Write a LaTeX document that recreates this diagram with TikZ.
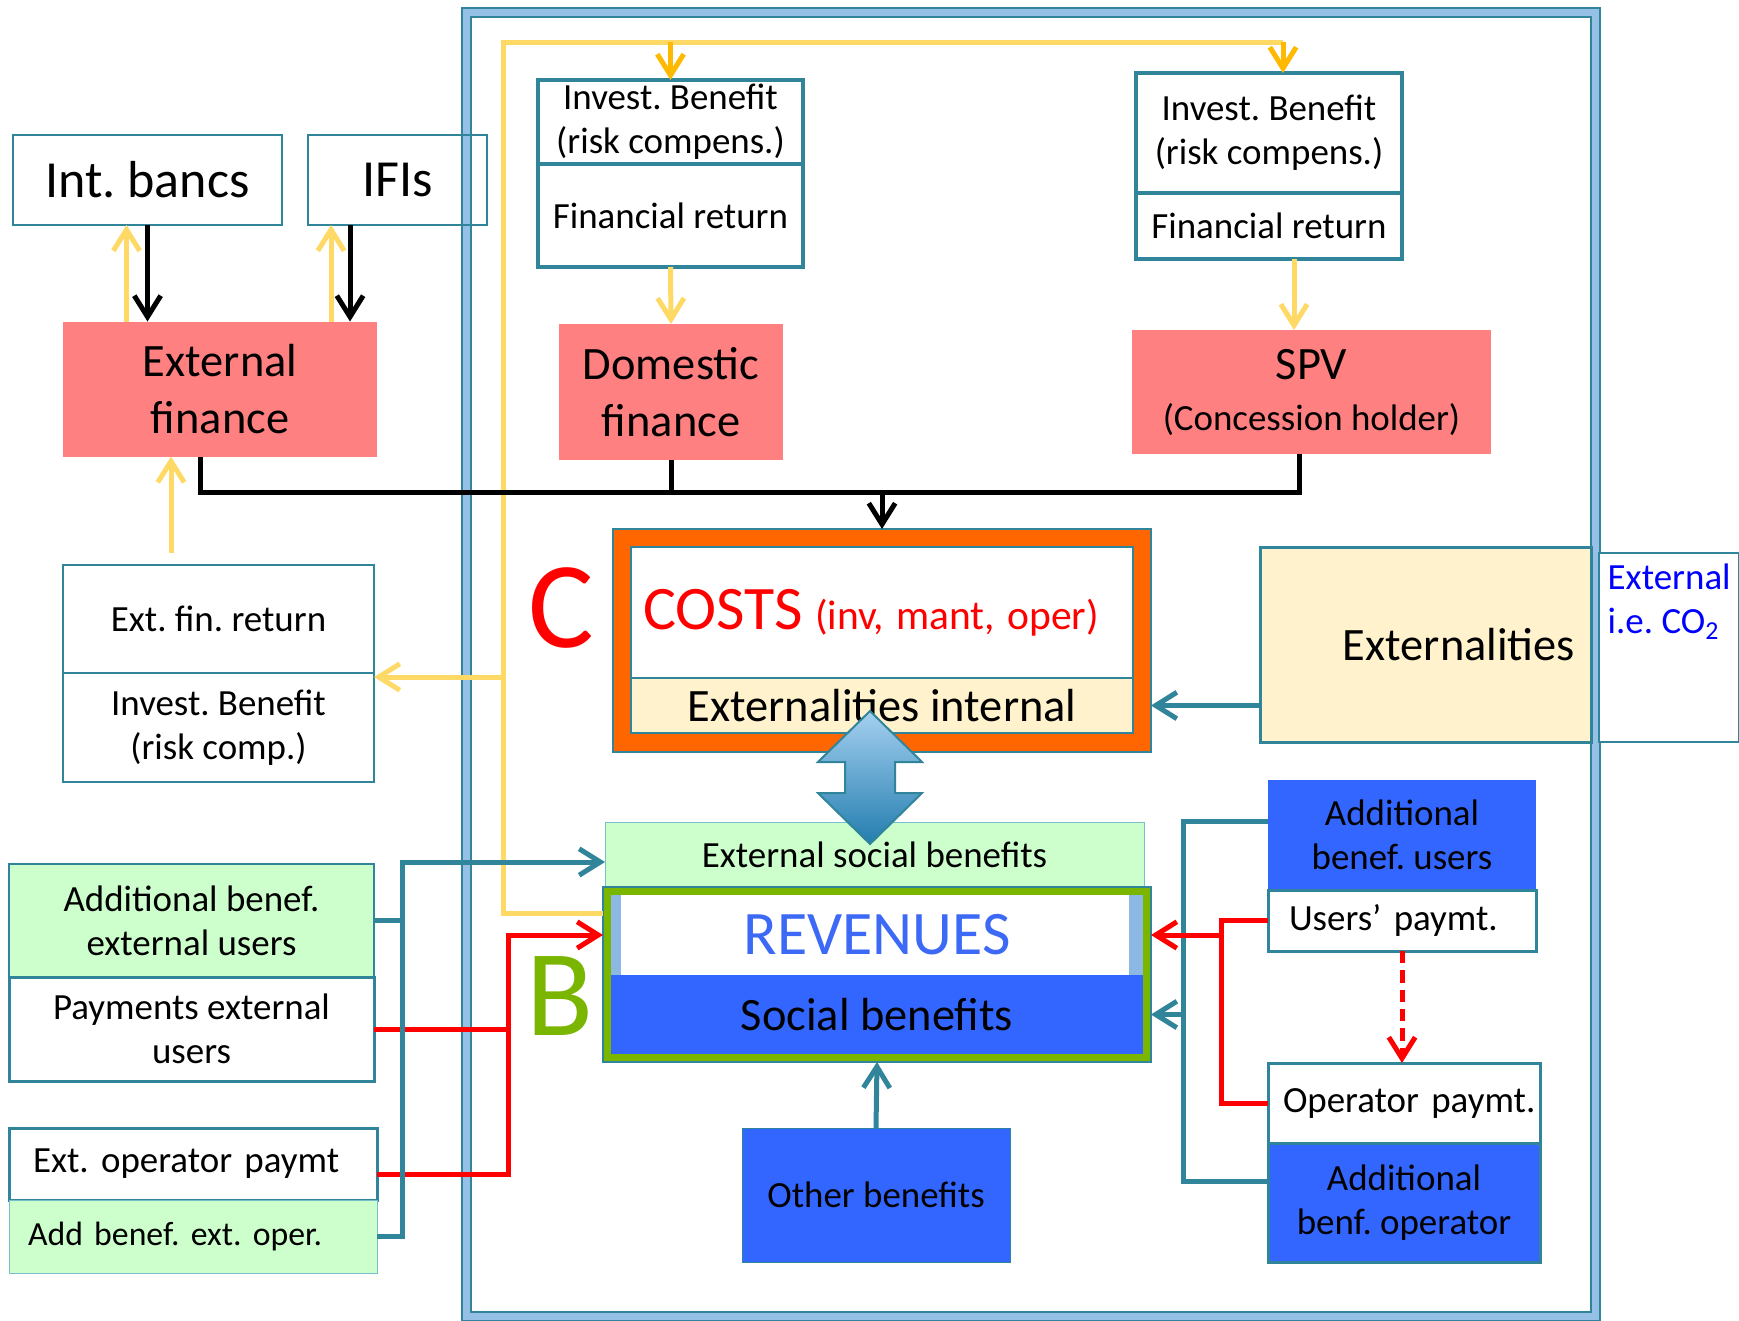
\documentclass[tikz,border=0pt]{standalone}
\usepackage{fontspec}
\setmainfont{Carlito}
\frenchspacing
\usetikzlibrary{arrows.meta, positioning, calc}
\definecolor{tealb}{RGB}{49,133,155}
\definecolor{framelight}{RGB}{150,192,230}
\definecolor{salmon}{RGB}{255,128,128}
\definecolor{deepblue}{RGB}{51,102,255}
\definecolor{revblue}{RGB}{60,105,245}
\definecolor{costorange}{RGB}{255,102,0}
\definecolor{leafgreen}{RGB}{122,182,0}
\definecolor{mint}{RGB}{204,255,204}
\definecolor{mintedge}{RGB}{120,190,205}
\definecolor{cream}{RGB}{255,242,204}
\definecolor{paleyellow}{RGB}{255,217,102}
\definecolor{amber}{RGB}{255,185,0}
\definecolor{co2blue}{RGB}{0,0,255}
\definecolor{stripblue}{RGB}{140,185,228}
\definecolor{arrowtop}{RGB}{165,208,240}
\definecolor{arrowbot}{RGB}{35,125,175}
\newdimen\pxu \pxu=0.01cm
\newcommand\fsm{\fontsize{10.5pt}{12.5pt}\selectfont}
\newcommand\fxs{\fontsize{9.6pt}{12pt}\selectfont}
\newcommand\fmd{\fontsize{13.2pt}{16.2pt}\selectfont}
\newcommand\fbg{\fontsize{14.8pt}{17pt}\selectfont}
\newcommand\fhg{\fontsize{17.6pt}{20pt}\selectfont}
\newcommand\fcst{\fontsize{11.8pt}{14pt}\selectfont}
\newcommand\fltr{\fontsize{35pt}{40pt}\selectfont}
\tikzset{
  font=\fsm,
  >={Straight Barb[length=6pt,width=7.5pt]},
  wh/.style 2 args={minimum width=#1\pxu, minimum height=#2\pxu},
  baseblock/.style={rectangle, inner sep=0pt, outer sep=0pt, align=center, line width=2.5\pxu},
  tealbox/.style={baseblock, draw=tealb, fill=white},
  investbox/.style={tealbox, line width=4\pxu},
  salmonblock/.style={baseblock, fill=salmon, font=\fmd},
  blueblock/.style={baseblock, fill=deepblue},
  mintblock/.style={baseblock, fill=mint, draw=mintedge, line width=1\pxu},
  creamblock/.style={baseblock, fill=cream, draw=tealb, line width=2\pxu, font=\fmd},
  costframe/.style={baseblock, fill=costorange, draw=tealb, line width=2\pxu},
  revframe/.style={baseblock, fill=leafgreen, draw=tealb, line width=2\pxu},
  bigletter/.style={inner sep=0pt, font=\fltr},
  framedouble/.style={draw=tealb, line width=2\pxu, double=framelight, double distance=7\pxu},
  dblarrow/.style={draw=tealb, line width=2\pxu, top color=arrowtop, bottom color=arrowbot},
  yline/.style={draw=paleyellow, line width=5\pxu},
  yarrow/.style={yline, ->},
  oarrow/.style={draw=amber, line width=5\pxu, ->},
  bline/.style={draw=black, line width=5\pxu},
  barrow/.style={bline, ->},
  tline/.style={draw=tealb, line width=5\pxu},
  tarrow/.style={tline, ->},
  rline/.style={draw=red, line width=5\pxu},
  rarrow/.style={rline, ->},
  rdash/.style={rline, ->, dash pattern=on 3.5pt off 2pt}
}
\begin{document}
\begin{tikzpicture}[x=0.01cm, y=-0.01cm]
  \useasboundingbox[fill=white] (0,0) rectangle (1739,1321);
  \draw[framedouble] (466,12) rectangle (1595,1316);

  \node[tealbox, wh={269}{90}, line width=2\pxu, font=\fbg] (intbanc) at (147.5,180) {Int. bancs};
  \node[tealbox, fill=none, wh={179}{90}, line width=2\pxu, font=\fbg] (ifis) at (397.5,180) {IFIs};
  \node[salmonblock, wh={314}{135}] (extfin) at (220,389) {External\\finance};

  \node[tealbox, wh={311}{108}] (extret) at (218.5,619) {Ext. fin. return};
  \node[tealbox, wh={311}{109}, below=0pt of extret] (investrc) {Invest. Benefit\\(risk comp.)};

  \node[investbox, wh={265}{84}] (invest1) at (670.5,122) {Invest. Benefit\\(risk compens.)};
  \node[investbox, wh={265}{103}, below=0pt of invest1] (finret1) {Financial return};
  \node[salmonblock, wh={224}{136}] (domfin) at (671,392) {Domestic\\finance};

  \node[investbox, wh={266}{120}] (invest2) at (1269,133) {Invest. Benefit\\(risk compens.)};
  \node[investbox, wh={266}{66}, below=0pt of invest2] (finret2) {Financial return};
  \node[salmonblock, wh={359}{124}] (spv) at (1311.5,392) {SPV\\[-1.7pt]{\fsm (Concession holder)}};

  \node[costframe, wh={538}{223}] (costs) at (882,640.5) {};
  \node[tealbox, line width=2\pxu, wh={502}{131}, text width=478\pxu, align=left, text=red] (costsin) at (882,612.5) {{\fhg COSTS} {\fcst (inv, mant, oper)}};
  \node[creamblock, wh={502}{55}, below=0pt of costsin] (extint) {Externalities internal};
  \node[bigletter, text=red] (letterc) at (561,608) {C};

  \node[mintblock, wh={539}{65}] (extsoc) at (874.5,854.5) {External social benefits};
  \node[revframe, wh={548}{175}] (revenues) at (877,974.5) {};
  \node[baseblock, fill=white, wh={532}{80}, text=revblue, font=\fhg] (revtop) at (877,935) {REVENUES};
  \node[blueblock, wh={532}{79}, below=0pt of revtop, font=\fmd] (socben) {Social benefits};
  \fill[stripblue] (revtop.north west) rectangle ++(10,80);
  \fill[stripblue] (revtop.north east) rectangle ++(-14,80);
  \node[bigletter, text=leafgreen] (letterb) at (560,996) {B};
  \node[blueblock, draw=tealb, line width=1\pxu, wh={268}{134}] (othben) at (876,1195) {Other benefits};

  \draw[dblarrow] (870,711) -- (922,762) -- (895,762) -- (895,793) -- (922,793) -- (870,844)
    -- (818,793) -- (845,793) -- (845,762) -- (818,762) -- cycle;

  \node[creamblock, line width=3\pxu, wh={331}{195}, text width=299\pxu, align=right] (extern) at (1425.5,644.5) {Externalities};
  \node[tealbox, line width=1.5\pxu, wh={140}{189}] (extco2) at (1669,647.5) {};
  \node[anchor=north west, text=co2blue, align=left, inner sep=0pt] (co2txt) at ($(extco2.north west)+(8,10)$) {External\\i.e. CO\textsubscript{2}};

  \node[blueblock, wh={268}{110}] (addusr) at (1402,835) {Additional\\benef. users};
  \node[tealbox, line width=3\pxu, wh={268}{61}, below=0pt of addusr, text width=226\pxu, align=left] (usrpay) {Users’ paymt.};
  \node[tealbox, line width=3\pxu, wh={272}{80}, text width=242\pxu, align=left] (oppay) at (1404,1103) {\mbox{Operator paymt.}};
  \node[blueblock, draw=tealb, line width=3\pxu, wh={272}{119}, below=0pt of oppay] (addop) {Additional\\benf. operator};

  \node[mintblock, draw=tealb, line width=2.5\pxu, wh={365}{113}] (addext) at (191.5,920.5) {Additional benef.\\external users};
  \node[tealbox, line width=3\pxu, wh={365}{104}, below=0pt of addext] (payext) {Payments external\\users};
  \node[tealbox, line width=3\pxu, wh={368}{72}, text width=320\pxu, align=left] (extop) at (193,1164) {\mbox{Ext. operator paymt}};
  \node[mintblock, wh={368}{73}, below=0pt of extop, text width=330\pxu, align=left, font=\fxs] (addextop) {\mbox{Add benef. ext. oper.}};

  \coordinate (ytop) at (503,42);
  \coordinate (ybot) at (503,913);
  \coordinate (ytopr) at (1283,42);
  \coordinate (yinv) at (503,677);
  \coordinate (spvin) at ($(spv.north)+(-17.5,0)$);
  \coordinate (upb) at ($(intbanc.south)+(-21,0)$);
  \coordinate (upi) at ($(ifis.south)+(-66.5,0)$);
  \coordinate (dni) at ($(ifis.south)+(-47.5,0)$);
  \coordinate (upe) at ($(extret.north)+(-47.5,-12)$);
  \coordinate (bus) at (0,492);
  \coordinate (efb) at ($(extfin.south)+(-20,0)$);
  \coordinate (spvb) at ($(spv.south)+(-12.5,0)$);
  \coordinate (lbr) at (402,862);
  \coordinate (rbr) at (1183,0);
  \coordinate (abu) at ($(addusr.west)+(0,-14)$);
  \coordinate (abo) at ($(addop.west)+(0,-21)$);
  \coordinate (rred) at (1221,0);
  \coordinate (lred) at (508,0);
  \coordinate (eob) at ($(extop.east)+(0,10)$);

  \draw[yline] (ybot -| revenues.west) -- (ybot) -- (ytop) -- (ytopr);
  \draw[oarrow] (ytop -| invest1.north) -- (invest1.north);
  \draw[oarrow] (ytopr) -- (ytopr |- invest2.north);
  \draw[yarrow] (yinv) -- (yinv -| investrc.east);
  \draw[yarrow] (finret1.south) -- (domfin.north);
  \draw[yarrow] (spvin |- finret2.south) -- (spvin);
  \draw[yarrow] (upb |- extfin.north) -- (upb);
  \draw[yarrow] (upi |- extfin.north) -- (upi);
  \draw[yarrow] (upe) -- (upe |- extfin.south);

  \draw[barrow] (intbanc.south) -- (intbanc.south |- extfin.north);
  \draw[barrow] (dni) -- (dni |- extfin.north);
  \draw[bline] (efb) |- (bus -| spvb) -- (spvb);
  \draw[bline] (domfin.south) -- (domfin.south |- bus);
  \draw[barrow] (costs.north |- bus) -- (costs.north);

  \draw[tarrow] (extern.west |- extint) -- (extint -| costs.east);
  \draw[tarrow] (othben.north) -- (revenues.south);
  \draw[tline] (abu) -| (rbr |- abo) -- (abo);
  \draw[tarrow] (rbr |- socben) -- (socben -| revenues.east);

  \draw[rline] (usrpay.west) -| (rred |- oppay.west) -- (oppay.west);
  \draw[rarrow] (rred |- revtop) -- (revtop -| revenues.east);
  \draw[rdash] (usrpay.south) -- (usrpay.south |- oppay.north);
  \draw[rline] (payext.east) -- (payext.east -| lred);
  \draw[rarrow] (eob) -| (lred |- revtop) -- (revtop -| revenues.west);

  \draw[tline] (addext.east) -- (addext.east -| lbr);
  \draw[tarrow] (addextop.east) -| (lbr) -- (lbr -| extsoc.west);
\end{tikzpicture}
\end{document}
